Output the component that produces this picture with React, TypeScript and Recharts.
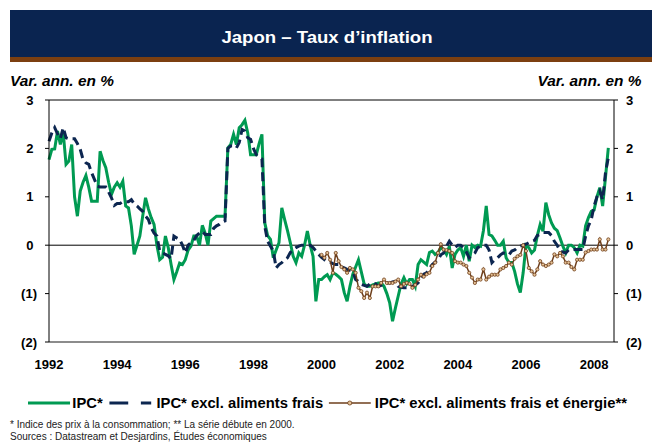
import { LineChart, Line, XAxis, YAxis, ReferenceLine } from 'recharts';

// monthly data, Jan 1992 -> Jun 2008
const ipc = [
  1.77, 1.98, 1.99, 2.36, 2.08, 2.33, 1.67, 1.74, 2.08, 1.0, 0.6, 1.12,
  1.3, 1.44, 1.2, 0.91, 0.91, 0.91, 1.94, 1.75, 1.6, 1.3, 1.05, 1.2,
  1.29, 1.2, 1.32, 0.81, 0.77, 0.4, -0.19, 0.0, 0.19, 0.6, 0.98, 0.75,
  0.57, 0.43, 0.0, -0.3, -0.25, 0.19, -0.05, -0.4, -0.71, -0.55, -0.37, -0.4,
  -0.3, -0.1, -0.02, 0.19, 0.19, 0.0, 0.41, 0.25, 0.0, 0.5, 0.55, 0.6,
  0.6, 0.6, 0.6, 2.01, 2.08, 2.29, 2.08, 2.43, 2.49, 2.58, 2.32, 1.87,
  1.87, 1.87, 2.1, 2.29, 0.46, 0.2, 0.12, -0.26, -0.1, 0.05, 0.77, 0.53,
  0.3, 0.05, -0.23, -0.36, -0.16, -0.23, 0.0, 0.29, 0.0, -0.23, -1.16, -0.71,
  -0.71, -0.65, -0.61, -0.71, -0.57, -0.6, -0.65, -0.71, -0.98, -1.16, -0.85, -0.6,
  -0.45, -0.3, -0.55, -0.8, -0.85, -0.85, -0.82, -0.8, -0.78, -0.78, -0.85, -1.0,
  -1.19, -1.57, -1.3, -1.05, -0.8, -0.67, -0.8, -0.71, -0.71, -0.85, -0.4, -0.3,
  -0.35, -0.4, -0.15, -0.12, -0.19, -0.15, -0.05, -0.09, -0.19, -0.02, -0.47, -0.19,
  -0.1, -0.05, -0.23, 0.0, -0.33, 0.0, -0.05, 0.0, -0.02, 0.3, 0.81, 0.22,
  0.19, 0.1, 0.0, 0.0, 0.08, -0.26, -0.36, -0.36, -0.54, -0.8, -0.98, -0.57,
  0.0, -0.05, -0.16, -0.1, 0.2, 0.43, 0.29, 0.88, 0.63, 0.46, 0.35, 0.3,
  0.15, -0.02, -0.16, 0.0, 0.0, -0.05, -0.16, 0.0, -0.02, 0.4, 0.57, 0.7,
  0.73, 1.0, 1.19, 0.81, 1.4, 2.01,
];

const ipcExFresh = [
  2.15, 2.32, 2.43, 2.3, 2.2, 2.43, 2.22, 2.2, 2.2, 2.2, 2.1, 1.98,
  1.77, 1.7, 1.67, 1.5, 1.36, 1.22, 1.2, 1.2, 1.2, 1.1, 0.98, 0.82,
  0.86, 0.86, 0.9, 0.9, 0.9, 0.94, 0.85, 0.81, 0.75, 0.7, 0.6, 0.53,
  0.36, 0.25, 0.19, -0.12, -0.15, -0.19, -0.22, -0.28, 0.19, 0.15, 0.12, 0.0,
  -0.16, 0.0, 0.05, 0.1, 0.2, 0.25, 0.29, 0.22, 0.22, 0.22, 0.35, 0.4,
  0.43, 0.48, 0.5, 2.0, 2.05, 2.05, 2.01, 2.12, 2.39, 2.36, 2.22, 2.19,
  2.0, 1.87, 1.81, 1.78, 0.39, 0.08, -0.02, -0.12, -0.47, -0.4, -0.36, -0.3,
  -0.26, -0.15, -0.09, -0.05, -0.02, 0.0, 0.0, 0.0, 0.0, -0.05, -0.12, -0.19,
  -0.25, -0.3, -0.35, -0.35, -0.38, -0.4, -0.4, -0.45, -0.47, -0.5, -0.52, -0.54,
  -0.71, -0.75, -0.81, -0.83, -0.85, -0.8, -0.78, -0.8, -0.85, -0.83, -0.8, -0.78,
  -0.78, -0.76, -0.75, -0.85, -0.87, -0.88, -0.88, -0.86, -0.85, -0.82, -0.78, -0.7,
  -0.6, -0.57, -0.48, -0.4, -0.35, -0.3, -0.2, -0.16, -0.02, 0.08, 0.0, -0.05,
  0.0, 0.0, -0.05, -0.14, -0.26, -0.2, -0.16, -0.05, -0.02, 0.0, 0.0, -0.1,
  -0.36, -0.3, -0.26, -0.2, -0.16, -0.18, -0.2, -0.12, -0.1, -0.05, -0.02, 0.0,
  0.02, 0.05, 0.08, 0.1, 0.2, 0.22, 0.26, 0.26, 0.26, 0.2, 0.08, 0.0,
  -0.12, -0.14, -0.16, -0.1, -0.09, -0.09, -0.09, -0.09, -0.09, 0.19, 0.4, 0.53,
  0.81, 1.0, 1.12, 0.94, 1.5, 1.81,
];

// starts in Jan 2000
const ipcCore = [
  -0.2, -0.26, -0.16, -0.3, -0.57, -0.16, -0.33, -0.45, -0.5, -0.57, -0.47, -0.5,
  -0.57, -0.88, -0.95, -1.09, -0.98, -1.09, -0.85, -0.85, -0.85, -0.78, -0.71, -0.78,
  -0.78, -0.78, -0.75, -0.71, -0.85, -0.8, -0.78, -0.8, -0.88, -0.82, -0.71, -0.61,
  -0.65, -0.6, -0.57, -0.43, -0.36, -0.16, 0.02, -0.09, -0.1, -0.12, -0.16, -0.33,
  -0.36, -0.36, -0.4, -0.43, -0.57, -0.67, -0.78, -0.71, -0.71, -0.5, -0.71, -0.65,
  -0.61, -0.61, -0.61, -0.5, -0.47, -0.43, -0.36, -0.4, -0.28, -0.23, -0.2, 0.0,
  -0.12, -0.47, -0.54, -0.61, -0.5, -0.33, -0.4, -0.43, -0.4, -0.36, -0.19, -0.23,
  -0.16, -0.23, -0.36, -0.36, -0.45, -0.5, -0.3, -0.3, -0.3, -0.15, -0.12, -0.09,
  -0.09, -0.09, 0.12, -0.09, -0.09, 0.12,
];

const firstYear = 1992;
const coreStart = (2000 - firstYear) * 12;
const yearTicks = [0, 24, 48, 72, 96, 120, 144, 168, 192];
const valueTicks = [-2, -1, 0, 1, 2, 3];

const data = ipc.map((v, i) => ({
  i,
  ipc: v,
  exFresh: ipcExFresh[i],
  core: i >= coreStart ? ipcCore[i - coreStart] : null,
}));

const GREEN = '#009a52';
const NAVY = '#0c2650';
const BROWN = '#6e3f1c';
const FONT = '"Liberation Sans", Arial, sans-serif';

// excel style 0_);(0): positive numbers keep room for the ")"
const fmtValue = (v: number) => (v < 0 ? `(${-v})` : `${v}\u2008`);
const tickStyle = { fontSize: 13, fontWeight: 700, fill: '#000', fontFamily: FONT };

export default function App() {
  return (
    <div
      style={{
        position: 'absolute',
        left: 0,
        top: 0,
        width: 652,
        height: 442,
        background: '#fff',
        fontFamily: FONT,
        overflow: 'hidden',
      }}
    >
      {/* title banner */}
      <div
        style={{
          position: 'absolute',
          left: 10,
          top: 10,
          width: 642,
          height: 47,
          background: '#0a2450',
          color: '#fff',
          fontWeight: 700,
          fontSize: 16,
          lineHeight: '47px',
          textAlign: 'center',
        }}
      >
        <span style={{ display: 'inline-block', transform: 'translate(-4px, 4px) scaleX(1.16)' }}>
          Japon – Taux d’inflation
        </span>
      </div>
      <div style={{ position: 'absolute', left: 10, top: 57, width: 642, height: 5, background: '#7c3f10' }} />

      <div
        style={{
          position: 'absolute',
          left: 10,
          top: 73,
          fontSize: 14,
          fontWeight: 700,
          fontStyle: 'italic',
          transform: 'scaleX(1.1)',
          transformOrigin: 'left',
        }}
      >
        Var. ann. en %
      </div>
      <div
        style={{
          position: 'absolute',
          right: 11,
          top: 73,
          fontSize: 14,
          fontWeight: 700,
          fontStyle: 'italic',
          transform: 'scaleX(1.1)',
          transformOrigin: 'right',
        }}
      >
        Var. ann. en %
      </div>

      <div style={{ position: 'absolute', left: 0, top: 0 }}>
        <LineChart width={652} height={442} data={data} margin={{ top: 100, right: 0, bottom: 70, left: 9 }}>
          <XAxis
            dataKey="i"
            type="number"
            domain={[0, 199]}
            ticks={yearTicks}
            tickFormatter={(v: number) => `${firstYear + v / 12}`}
            tick={tickStyle}
            tickLine={false}
            tickSize={0}
            tickMargin={18}
            height={30}
            axisLine={{ stroke: '#8c8c8c', strokeWidth: 2 }}
          />
          <YAxis
            yAxisId="l"
            domain={[-2, 3]}
            ticks={valueTicks}
            tickFormatter={fmtValue}
            tick={tickStyle}
            tickSize={4}
            tickMargin={8}
            width={40}
            axisLine={{ stroke: '#000' }}
            tickLine={{ stroke: '#000' }}
          />
          <YAxis
            yAxisId="r"
            orientation="right"
            domain={[-2, 3]}
            ticks={valueTicks}
            tickFormatter={fmtValue}
            tick={tickStyle}
            tickSize={4}
            tickMargin={8}
            width={38}
            axisLine={{ stroke: '#000' }}
            tickLine={{ stroke: '#000' }}
          />
          <ReferenceLine yAxisId="r" y={3} stroke="#000" />
          <ReferenceLine yAxisId="l" y={0} stroke="#000" />
          <Line
            yAxisId="l"
            dataKey="ipc"
            type="linear"
            stroke={GREEN}
            strokeWidth={3}
            dot={false}
            isAnimationActive={false}
          />
          <Line
            yAxisId="l"
            dataKey="exFresh"
            type="linear"
            stroke={NAVY}
            strokeWidth={3}
            strokeDasharray="9 5"
            dot={false}
            isAnimationActive={false}
          />
          <Line
            yAxisId="l"
            dataKey="core"
            type="linear"
            stroke={BROWN}
            strokeWidth={1.5}
            dot={{ r: 1.6, fill: '#e6c397', stroke: BROWN, strokeWidth: 0.8 }}
            isAnimationActive={false}
          />
          {/* keeps the right axis drawn */}
          <Line
            yAxisId="r"
            dataKey="ipc"
            stroke="none"
            dot={false}
            activeDot={false}
            legendType="none"
            isAnimationActive={false}
          />
        </LineChart>
      </div>

      {/* legend */}
      <div
        style={{
          position: 'absolute',
          left: 28,
          top: 395,
          display: 'flex',
          alignItems: 'center',
          fontSize: 14,
          fontWeight: 700,
          whiteSpace: 'nowrap',
          transform: 'scaleX(1.055)',
          transformOrigin: 'left',
        }}
      >
        <svg width={40} height={10}>
          <line x1={0} y1={5} x2={40} y2={5} stroke={GREEN} strokeWidth={3} />
        </svg>
        <span style={{ marginLeft: 2 }}>IPC*</span>
        <svg width={40} height={10} style={{ marginLeft: 6 }}>
          <line x1={0} y1={5} x2={40} y2={5} stroke={NAVY} strokeWidth={3} strokeDasharray="18 12" />
        </svg>
        <span style={{ marginLeft: 5 }}>IPC* excl. aliments frais</span>
        <svg width={40} height={10} style={{ marginLeft: 5 }}>
          <line x1={0} y1={5} x2={40} y2={5} stroke={BROWN} strokeWidth={1.5} />
          <circle cx={20} cy={5} r={2} fill="#e6c397" stroke={BROWN} strokeWidth={0.8} />
        </svg>
        <span style={{ marginLeft: 4 }}>IPC* excl. aliments frais et énergie**</span>
      </div>

      <div style={{ position: 'absolute', left: 10, top: 419, fontSize: 10, color: '#222', lineHeight: '12px' }}>
        <div>* Indice des prix à la consommation; ** La série débute en 2000.</div>
        <div>Sources : Datastream et Desjardins, Études économiques</div>
      </div>
    </div>
  );
}
